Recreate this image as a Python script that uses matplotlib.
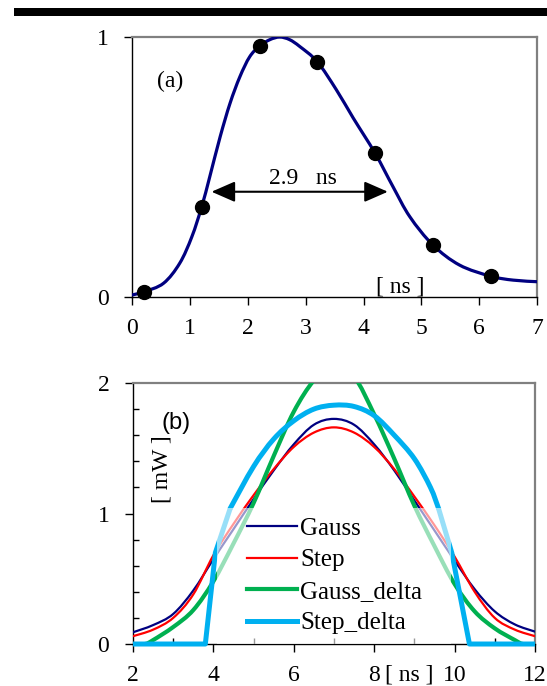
import matplotlib.pyplot as plt
from matplotlib.patches import Rectangle, PathPatch
from matplotlib.path import Path
from matplotlib.lines import Line2D
from matplotlib.ticker import MultipleLocator

plt.rcParams['font.family'] = ['Liberation Serif', 'DejaVu Serif']

# (a) measured pulse points and fitted curve
t_pts = [0.2, 1.2, 2.2, 3.2, 4.2, 5.2, 6.2]
p_pts = [0.02, 0.347, 0.965, 0.905, 0.553, 0.2, 0.08]
t_fit = [0, 0.2, 0.54, 0.82, 1.03, 1.2, 1.34, 1.52, 1.69, 1.86, 2.03, 2.2, 2.38,
         2.55, 2.72, 2.9, 3.2, 3.53, 3.82, 4.2, 4.51, 4.8, 5.2, 5.66, 6.2, 6.59, 7.0]
p_fit = [0.008, 0.02, 0.053, 0.13, 0.232, 0.347, 0.463, 0.617, 0.745, 0.847, 0.924, 0.965, 0.99,
         1.0, 0.99, 0.963, 0.905, 0.797, 0.689, 0.553, 0.424, 0.309, 0.2, 0.123, 0.08, 0.065, 0.059]

# (b) power profiles [mW]
x_b = [2, 2.5, 3, 3.5, 4, 4.5, 5, 5.5, 6, 6.5, 7, 7.5, 8, 8.5, 9, 9.5, 10, 10.5, 11, 11.5, 12]
gauss = [0.09, 0.145, 0.23, 0.41, 0.65, 0.88, 1.11, 1.33, 1.53, 1.68, 1.725,
         1.68, 1.53, 1.33, 1.10, 0.87, 0.64, 0.42, 0.25, 0.15, 0.095]
step = [0.06, 0.11, 0.20, 0.38, 0.68, 0.92, 1.14, 1.34, 1.51, 1.62, 1.66,
        1.62, 1.51, 1.34, 1.13, 0.91, 0.67, 0.40, 0.20, 0.11, 0.06]
x_gd = [2, 2.3, 2.5, 3, 3.5, 4, 4.5, 5, 5.5, 6, 6.5, 7, 7.5, 8, 8.5, 9, 9.5, 10, 10.5, 11, 11.5, 11.7, 12]
gauss_delta = [0, 0, 0.03, 0.13, 0.26, 0.48, 0.77, 1.08, 1.44, 1.78, 2.02, 2.15,
               2.05, 1.76, 1.42, 1.06, 0.75, 0.46, 0.25, 0.12, 0.03, 0, 0]
x_sd = [2, 3.8, 4.05, 4.42, 5, 5.5, 6, 6.5, 7, 7.5, 8, 8.5, 9, 9.4, 9.6, 9.93, 10.37, 12]
step_delta = [0, 0, 0.70, 1.04, 1.36, 1.57, 1.71, 1.80, 1.83, 1.82, 1.75, 1.60,
              1.42, 1.20, 1.04, 0.70, 0, 0]

fs = 17
navy, red, green, cyan = '#000080', '#ff0000', '#00b050', '#00b0f0'


def smooth_path(xs, ys):
    # spreadsheet-style smoothed line: bezier segments through the data points
    pts = list(zip(xs, ys))
    n = len(pts)
    verts = [pts[0]]
    codes = [Path.MOVETO]
    for i in range(n - 1):
        p0 = pts[i - 1] if i > 0 else pts[i]
        p1, p2 = pts[i], pts[i + 1]
        p3 = pts[i + 2] if i + 2 < n else pts[i + 1]
        c1 = (p1[0] + (p2[0] - p0[0]) / 6, p1[1] + (p2[1] - p0[1]) / 6)
        c2 = (p2[0] - (p3[0] - p1[0]) / 6, p2[1] - (p3[1] - p1[1]) / 6)
        verts += [c1, c2, p2]
        codes += [Path.CURVE4] * 3
    return Path(verts, codes)


def smooth_line(ax, xs, ys, color, lw, clip=True):
    ax.add_patch(PathPatch(smooth_path(xs, ys), facecolor='none', edgecolor=color,
                           lw=lw, zorder=3, clip_on=clip, capstyle='round'))


def frame(ax):
    for s in ['top', 'right']:
        ax.spines[s].set_color('#808080')
        ax.spines[s].set_linewidth(1.6)
    for s in ['left', 'bottom']:
        ax.spines[s].set_color('black')
        ax.spines[s].set_linewidth(1.0)


fig = plt.figure(figsize=(5.47, 6.86), dpi=100)
fig.patches.append(Rectangle((0.0256, 0.9771), 0.98, 0.0117, transform=fig.transFigure,
                             facecolor='black', edgecolor='none'))

# ---- panel (a)
ax1 = fig.add_axes([0.2419, 0.567, 0.7398, 0.379])
smooth_line(ax1, t_fit, p_fit, navy, 2.3)
ax1.plot(t_pts, p_pts, 'o', color='black', ms=10, zorder=4, clip_on=False)
ax1.set_xlim(0, 7)
ax1.set_ylim(0, 1)
ax1.set_xticks(range(8))
ax1.set_yticks([0, 1])
ax1.tick_params(direction='out', length=6, width=1, labelsize=fs, pad=9)
ax1.tick_params(axis='y', pad=11)
frame(ax1)
ax1.annotate('', xy=(1.37, 0.405), xytext=(4.42, 0.405),
             arrowprops=dict(arrowstyle='<|-|>,head_length=0.8,head_width=0.35',
                             color='black', lw=1.5, mutation_scale=18, shrinkA=0, shrinkB=0))
ax1.text(2.95, 0.415, '2.9   ns', ha='center', va='bottom', fontsize=fs)
ax1.text(0.66, 0.83, '(a)', ha='center', va='center', fontsize=fs)
ax1.text(4.64, 0.0, '[ ns ]', ha='center', va='bottom', fontsize=fs)

# ---- panel (b)
ax2 = fig.add_axes([0.2431, 0.0612, 0.7349, 0.3805])
smooth_line(ax2, x_b, gauss, navy, 1.6)
smooth_line(ax2, x_b, step, red, 1.6)
smooth_line(ax2, x_gd, gauss_delta, green, 3.0)
# step_delta: straight edges, smoothed top
ax2.plot(x_sd[:4], step_delta[:4], color=cyan, lw=3.6, zorder=3, clip_on=False,
         solid_joinstyle='round', solid_capstyle='butt')
smooth_line(ax2, x_sd[3:15], step_delta[3:15], cyan, 3.6)
ax2.plot(x_sd[14:], step_delta[14:], color=cyan, lw=3.6, zorder=3, clip_on=False,
         solid_joinstyle='round', solid_capstyle='butt')
ax2.set_xlim(2, 12)
ax2.set_ylim(0, 2)
ax2.set_xticks([2, 4, 6, 8, 10, 12])
ax2.set_yticks([0, 1, 2])
ax2.xaxis.set_minor_locator(MultipleLocator(1))
ax2.yaxis.set_minor_locator(MultipleLocator(0.2))
ax2.tick_params(which='major', direction='out', length=6, width=1, labelsize=fs)
ax2.tick_params(which='minor', direction='in', length=4, width=1)
ax2.tick_params(axis='x', which='major', pad=9)
ax2.tick_params(axis='y', which='major', pad=11)
frame(ax2)
ax2.add_patch(Rectangle((4.1, 0), 5.8, 1.04, facecolor='white', edgecolor='none',
                        alpha=0.6, zorder=3.5))
handles = [Line2D([], [], color=navy, lw=1.6), Line2D([], [], color=red, lw=1.6),
           Line2D([], [], color=green, lw=3.0), Line2D([], [], color=cyan, lw=3.6)]
labels = ['Gauss', 'Step', 'Gauss_delta', 'Step_delta']
leg = ax2.legend(handles, labels, loc='upper left', bbox_to_anchor=(4.83, 0.97),
                 bbox_transform=ax2.transData, frameon=False, fontsize=18,
                 handlelength=2.0, handletextpad=0.15, labelspacing=0.36,
                 borderpad=0, borderaxespad=0)
leg.set_zorder(5)
ax2.text(2.72, 1.34, '[ mW ]', rotation=90, ha='center', va='center', fontsize=fs)
ax2.text(3.07, 1.69, '(b)', ha='center', va='center', fontsize=fs,
         family=['Liberation Sans', 'DejaVu Sans'])
ax2.annotate('[ ns ]', xy=(8.87, 0), xycoords=('data', 'axes fraction'),
             xytext=(0, -15), textcoords='offset points', ha='center', va='top',
             fontsize=fs, annotation_clip=False)

fig.savefig('out.png', dpi=100)
